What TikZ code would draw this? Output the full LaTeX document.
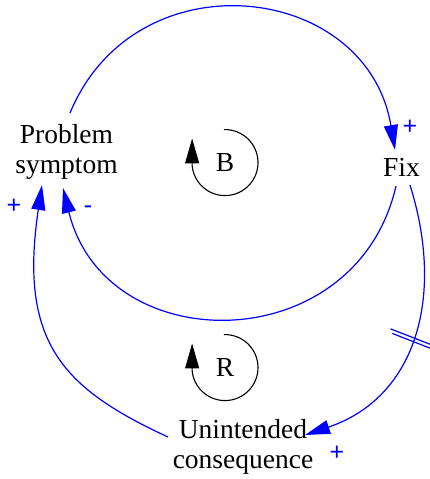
\documentclass[tikz,border=0pt]{standalone}
\usepackage{fontspec}
\setmainfont{Liberation Serif}
\newfontfamily\signfont{Liberation Sans}
\usetikzlibrary{arrows.meta,calc}
\begin{document}
\begin{tikzpicture}[x=1pt,y=-1pt,
  link/.style={draw=blue, line width=1.2pt, -{Triangle[length=25pt,width=14pt,fill=blue]}},
  loopar/.style={draw=black, line width=1.1pt, -{Triangle[length=25pt,width=14pt]}},
  lbl/.style={font=\fontsize{27.5}{30}\selectfont, inner sep=0pt, align=center},
  sign/.style={text=blue, font=\signfont\fontsize{25}{25}\selectfont, inner sep=0pt},
  delay/.style={draw=blue, line width=1.2pt}]
\useasboundingbox (0,0) rectangle (430,479);
% variables
\node[lbl] (PS) at (66.5,151.6) {Problem\\symptom};
\node[lbl] (Fix) at (401.5,167.6) {Fix};
\node[lbl] (UC) at (243,446.6) {Unintended\\consequence};
% loop identifiers
\node[lbl] (B) at (225,162.6) {B};
\node[lbl] (R) at (225,367.6) {R};
% polarity signs
\node[sign] (s1) at (410,127) {+};
\node[sign] (s2) at (14,206) {+};
\node[sign] (s3) at (88,210) {-};
\node[sign] (s4) at (337,453) {+};
% causal links
\draw[link] ($(PS)+(3.5,-38.6)$) .. controls +(65.4,-157.8) and +(-28.2,-168.4) .. ($(Fix)+(-6.5,-17.6)$);
\draw[link] ($(Fix)+(-5.5,18.4)$) .. controls +(-40.0,174) and +(42.2,173) .. ($(PS)+(-3.5,36.4)$);
\draw[link] ($(UC)+(-75,-9.6)$) .. controls +(-104.3,-48.3) and +(-23.7,158.2) .. ($(PS)+(-24.5,33.4)$);
\draw[link] ($(Fix)+(8.5,17.4)$) .. controls +(35.8,114.5) and +(109.3,-36.8) .. coordinate[pos=0.5] (dly) ($(UC)+(62,-11.6)$);
% delay mark
\draw[delay] ([shift={(-21.4,-10.3)}]dly) -- ([shift={(19.6,5.7)}]dly);
\draw[delay] ([shift={(-19.6,-5.7)}]dly) -- ([shift={(21.4,10.3)}]dly);
% loop arrows
\draw[loopar] ([shift={(-1.15,-33)}]B.center) arc[start angle=92, end angle=-175, radius=33pt] -- ++(0,-27);
\draw[loopar] ([shift={(-1.15,-33)}]R.center) arc[start angle=92, end angle=-175, radius=33pt] -- ++(0,-27);
\end{tikzpicture}
\end{document}
